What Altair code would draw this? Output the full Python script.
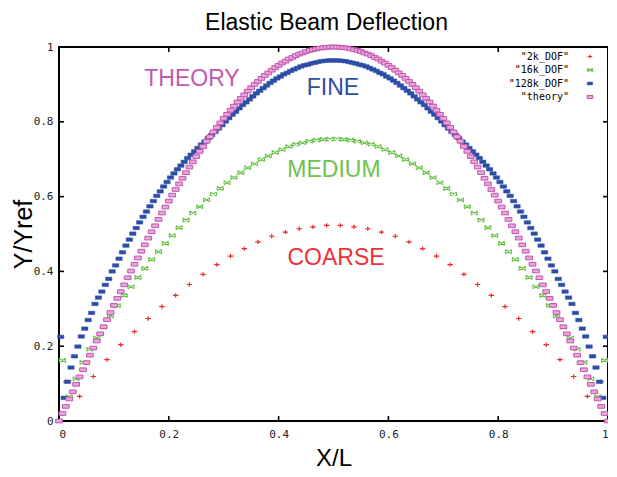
import altair as alt
import pandas as pd

# ---------------- data ----------------
theory_y = [
    0.000, 0.020, 0.039, 0.059, 0.078, 0.098, 0.118, 0.137, 0.156, 0.176,
    0.195, 0.214, 0.233, 0.252, 0.271, 0.290, 0.309, 0.328, 0.346, 0.364,
    0.383, 0.401, 0.419, 0.436, 0.454, 0.471, 0.489, 0.506, 0.522, 0.539,
    0.556, 0.572, 0.588, 0.604, 0.619, 0.634, 0.649, 0.664, 0.679, 0.693,
    0.707, 0.721, 0.734, 0.748, 0.760, 0.773, 0.785, 0.797, 0.809, 0.820,
    0.831, 0.842, 0.853, 0.863, 0.872, 0.882, 0.891, 0.900, 0.908, 0.916,
    0.924, 0.931, 0.938, 0.945, 0.951, 0.957, 0.962, 0.968, 0.972, 0.977,
    0.981, 0.984, 0.988, 0.991, 0.993, 0.995, 0.997, 0.998, 0.999, 1.000,
    1.000,
    1.000, 0.999, 0.998, 0.997, 0.995, 0.993, 0.991, 0.988, 0.984, 0.981,
    0.977, 0.972, 0.968, 0.962, 0.957, 0.951, 0.945, 0.938, 0.931, 0.924,
    0.916, 0.908, 0.900, 0.891, 0.882, 0.872, 0.863, 0.853, 0.842, 0.831,
    0.820, 0.809, 0.797, 0.785, 0.773, 0.760, 0.748, 0.734, 0.721, 0.707,
    0.693, 0.679, 0.664, 0.649, 0.634, 0.619, 0.604, 0.588, 0.572, 0.556,
    0.539, 0.522, 0.506, 0.489, 0.471, 0.454, 0.436, 0.419, 0.401, 0.383,
    0.364, 0.346, 0.328, 0.309, 0.290, 0.271, 0.252, 0.233, 0.214, 0.195,
    0.176, 0.156, 0.137, 0.118, 0.098, 0.078, 0.059, 0.039, 0.020, 0.000,
]

fine_y = [  # "128k_DOF"
    0.225, 0.062, 0.105, 0.143, 0.173, 0.199, 0.226, 0.247, 0.270, 0.289,
    0.313, 0.330, 0.346, 0.364, 0.380, 0.400, 0.416, 0.434, 0.451, 0.469,
    0.485, 0.501, 0.516, 0.531, 0.546, 0.560, 0.574, 0.588, 0.602, 0.614,
    0.627, 0.639, 0.651, 0.662, 0.673, 0.683, 0.693, 0.703, 0.712, 0.721,
    0.730, 0.739, 0.747, 0.756, 0.765, 0.773, 0.782, 0.791, 0.801, 0.810,
    0.819, 0.827, 0.836, 0.845, 0.852, 0.860, 0.868, 0.876, 0.883, 0.890,
    0.897, 0.904, 0.910, 0.916, 0.921, 0.927, 0.931, 0.936, 0.940, 0.944,
    0.948, 0.951, 0.953, 0.956, 0.958, 0.960, 0.962, 0.963, 0.964, 0.964,
    0.964, 0.964, 0.963, 0.962, 0.960, 0.958, 0.956, 0.953, 0.951, 0.948,
    0.944, 0.940, 0.936, 0.931, 0.927, 0.921, 0.916, 0.910, 0.904, 0.897,
    0.890, 0.883, 0.876, 0.868, 0.860, 0.852, 0.845, 0.836, 0.827, 0.819,
    0.810, 0.801, 0.791, 0.782, 0.773, 0.765, 0.756, 0.747, 0.739, 0.730,
    0.721, 0.712, 0.703, 0.693, 0.683, 0.673, 0.662, 0.651, 0.639, 0.627,
    0.614, 0.602, 0.588, 0.574, 0.560, 0.546, 0.531, 0.516, 0.501, 0.485,
    0.469, 0.451, 0.434, 0.416, 0.400, 0.380, 0.364, 0.346, 0.330, 0.313,
    0.289, 0.270, 0.247, 0.226, 0.199, 0.173, 0.143, 0.105, 0.062, 0.225,
]

medium_y = [  # "16k_DOF"
    0.162, 0.065, 0.113, 0.157, 0.192, 0.222, 0.251, 0.281, 0.309, 0.336,
    0.359, 0.384, 0.408, 0.432, 0.453, 0.475, 0.496, 0.517, 0.537, 0.556,
    0.573, 0.591, 0.607, 0.622, 0.637, 0.651, 0.664, 0.677, 0.688, 0.699,
    0.709, 0.718, 0.726, 0.734, 0.740, 0.744, 0.748, 0.751, 0.753, 0.754,
    0.754, 0.753, 0.751, 0.748, 0.744, 0.740, 0.734, 0.726, 0.718, 0.709,
    0.699, 0.688, 0.677, 0.664, 0.651, 0.637, 0.622, 0.607, 0.591, 0.573,
    0.556, 0.537, 0.517, 0.496, 0.475, 0.453, 0.432, 0.408, 0.384, 0.359,
    0.336, 0.309, 0.281, 0.251, 0.222, 0.192, 0.157, 0.113, 0.065, 0.162,
]

coarse_y = [  # "2k_DOF"
    0.105, 0.066, 0.119, 0.164, 0.204, 0.239, 0.274, 0.306, 0.336, 0.365,
    0.392, 0.418, 0.441, 0.461, 0.479, 0.494, 0.505, 0.514, 0.519, 0.523,
    0.523, 0.519, 0.514, 0.505, 0.494, 0.479, 0.461, 0.441, 0.418, 0.392,
    0.365, 0.336, 0.306, 0.274, 0.239, 0.204, 0.164, 0.119, 0.066, 0.105,
]

tick_values = [0, 0.2, 0.4, 0.6, 0.8, 1]
legend_labels = ['"2k_DOF"', '"16k_DOF"', '"128k_DOF"', '"theory"']
annotation_texts = ["THEORY", "FINE", "MEDIUM", "COARSE"]

# sample grids: theory on nodes, simulations on cell centres
theory_x = [i / (len(theory_y) - 1) for i in range(len(theory_y))]
fine_x = [(i + 0.5) / len(fine_y) for i in range(len(fine_y))]
medium_x = [(i + 0.5) / len(medium_y) for i in range(len(medium_y))]
coarse_x = [(i + 0.5) / len(coarse_y) for i in range(len(coarse_y))]

# ---------------- styling ----------------
W, H = 549, 374
SANS = "Liberation Sans"
MONO = "DejaVu Sans Mono"

PLUS = "M-1,0L1,0M0,-0.8L0,0.8"
BOWTIE = "M-1,-0.7L1,0.7M-1,0.7L1,-0.7M-1,-0.7L-1,0.7M1,-0.7L1,0.7"
RECT = "M-1,-0.55L1,-0.55L1,0.55L-1,0.55Z"

styles = [
    # (x, y, shape, size, filled, fill, stroke, strokeWidth)
    (coarse_x, coarse_y, PLUS, 30, False, "transparent", "#f02828", 1.2),
    (medium_x, medium_y, BOWTIE, 36, False, "transparent", "#6cc44c", 1.1),
    (fine_x, fine_y, RECT, 40, True, "#2c4ea6", "#2c4ea6", 0.5),
    (theory_x, theory_y, RECT, 45, True, "#e7a6dc", "#c355ae", 1.0),
]

xscale = alt.Scale(domain=[0, 1], nice=False, zero=False)
yscale = alt.Scale(domain=[0, 1], nice=False, zero=False)

x_axis = alt.Axis(
    values=tick_values, format=".1~f", ticks=False, domain=False, grid=False,
    labelFlush=True, labelFont=MONO, labelFontSize=11, labelColor="#222222",
    labelPadding=7, title="X/L", titleFont=SANS, titleFontSize=24,
    titleFontWeight="normal", titleColor="black", titleY=44,
    titleBaseline="alphabetic",
)
y_axis = alt.Axis(
    values=tick_values, format=".1~f", ticks=False, domain=False, grid=False,
    labelFont=MONO, labelFontSize=11, labelColor="#222222", labelPadding=6,
    title="Y/Yref", titleFont=SANS, titleFontSize=25, titleFontWeight="normal",
    titleColor="black", titleX=-36, titleY=H / 2, titleAngle=270,
    titleAlign="center", titleBaseline="middle",
)

X = alt.X("x:Q", scale=xscale, axis=x_axis)
Y = alt.Y("y:Q", scale=yscale, axis=y_axis)

layers = []

# inward ticks on all four sides
tx = pd.DataFrame({"x": tick_values})
ty = pd.DataFrame({"y": tick_values})
tick_style = dict(color="black", strokeWidth=1.6)
layers.append(alt.Chart(tx).mark_rule(**tick_style).encode(
    x=X, y=alt.value(H), y2=alt.value(H - 5)))
layers.append(alt.Chart(tx).mark_rule(**tick_style).encode(
    x=X, y=alt.value(0), y2=alt.value(5)))
layers.append(alt.Chart(ty).mark_rule(**tick_style).encode(
    y=Y, x=alt.value(0), x2=alt.value(5)))
layers.append(alt.Chart(ty).mark_rule(**tick_style).encode(
    y=Y, x=alt.value(W), x2=alt.value(W - 5)))

# data series
for xv, yv, shape, size, filled, fill, stroke, sw in styles:
    df = pd.DataFrame({"x": xv, "y": yv})
    layers.append(alt.Chart(df).mark_point(
        shape=shape, size=size, filled=filled, fill=fill, stroke=stroke,
        strokeWidth=sw, opacity=1,
    ).encode(x=X, y=Y))

# legend (top-right, labels right-aligned, symbol to the right)
for k, (lab, st) in enumerate(zip(legend_labels, styles)):
    _, _, shape, size, filled, fill, stroke, sw = st
    ypix = 9.5 + 13.5 * k
    layers.append(alt.Chart(pd.DataFrame({"t": [lab]})).mark_text(
        align="right", baseline="middle", font=MONO, fontSize=10, color="black",
    ).encode(text="t:N", x=alt.value(510), y=alt.value(ypix)))
    layers.append(alt.Chart(pd.DataFrame({"t": [lab]})).mark_point(
        shape=shape, size=size * 0.7, filled=filled, fill=fill, stroke=stroke,
        strokeWidth=sw, opacity=1,
    ).encode(x=alt.value(531), y=alt.value(ypix)))

# in-plot annotations
ann_pos = [(133, 32), (274, 41), (275, 123), (277, 211)]
ann_col = ["#c25aae", "#2d4fa2", "#6fc24c", "#ee3039"]
for txt, (px, py), col in zip(annotation_texts, ann_pos, ann_col):
    layers.append(alt.Chart(pd.DataFrame({"t": [txt]})).mark_text(
        align="center", baseline="middle", font=SANS, fontSize=23, color=col,
    ).encode(text="t:N", x=alt.value(px), y=alt.value(py)))

chart = alt.layer(*layers).properties(
    width=W, height=H,
    background="white",
    title=alt.TitleParams(
        "Elastic Beam Deflection", font=SANS, fontSize=23, fontWeight="normal",
        color="black", anchor="middle", offset=6, dx=-7,
    ),
    padding={"left": 51, "top": 39, "right": 0, "bottom": 48},
    autosize=alt.AutoSizeParams(type="none"),
).configure_view(stroke="black", strokeWidth=2)

chart.save("out.html", embed_options={"renderer": "svg", "actions": False})
